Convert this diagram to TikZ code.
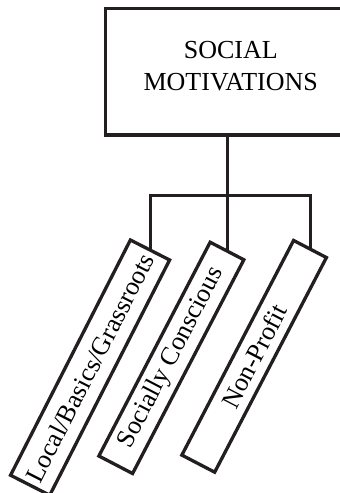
\documentclass[tikz,border=0pt]{standalone}
\usepackage{fontspec}
\setmainfont{Liberation Serif}
\definecolor{ink}{HTML}{231F20}
\begin{document}
\begin{tikzpicture}[x=1pt,y=1pt,
  ink line/.style={draw=ink, line width=3pt},
  headbox/.style={ink line, line width=3.3pt, fill=white, outer sep=0pt, inner sep=0pt,
    minimum width=250.5pt, minimum height=126.5pt, align=center,
    font=\fontsize{26}{32}\selectfont},
  tagbox/.style={ink line, line width=3.3pt, fill=white, outer sep=0pt, inner sep=0pt,
    anchor=east, font=\fontsize{26}{32}\selectfont},
  link/.style={ink line}]
  \clip (0,0) rectangle (340,493);
  \fill[white] (0,0) rectangle (340,493);

  % heading box (right side runs past the page edge)
  \node[headbox] (top) at (230.75,421.25) {SOCIAL\\MOTIVATIONS\rule[-11.5pt]{0pt}{0pt}};

  % hanging category tags
  \node[tagbox, rotate=63, minimum width=264pt, minimum height=44pt] (b1) at (150,243) {Local/Basics/Grassroots};
  \node[tagbox, rotate=62.5, minimum width=241pt, minimum height=38pt] (b2) at (227,242) {Socially Conscious};
  \node[tagbox, rotate=62.5, minimum width=242pt, minimum height=37pt] (b3) at (310,244) {Non-Profit};

  % tree connectors
  \coordinate (hub) at (227,297);
  \draw[link] (hub |- top.south) -- (hub);
  \draw[link] (b1.east) |- (hub) -| (b3.east);
  \draw[link] (hub) -- (b2.east);
\end{tikzpicture}
\end{document}
